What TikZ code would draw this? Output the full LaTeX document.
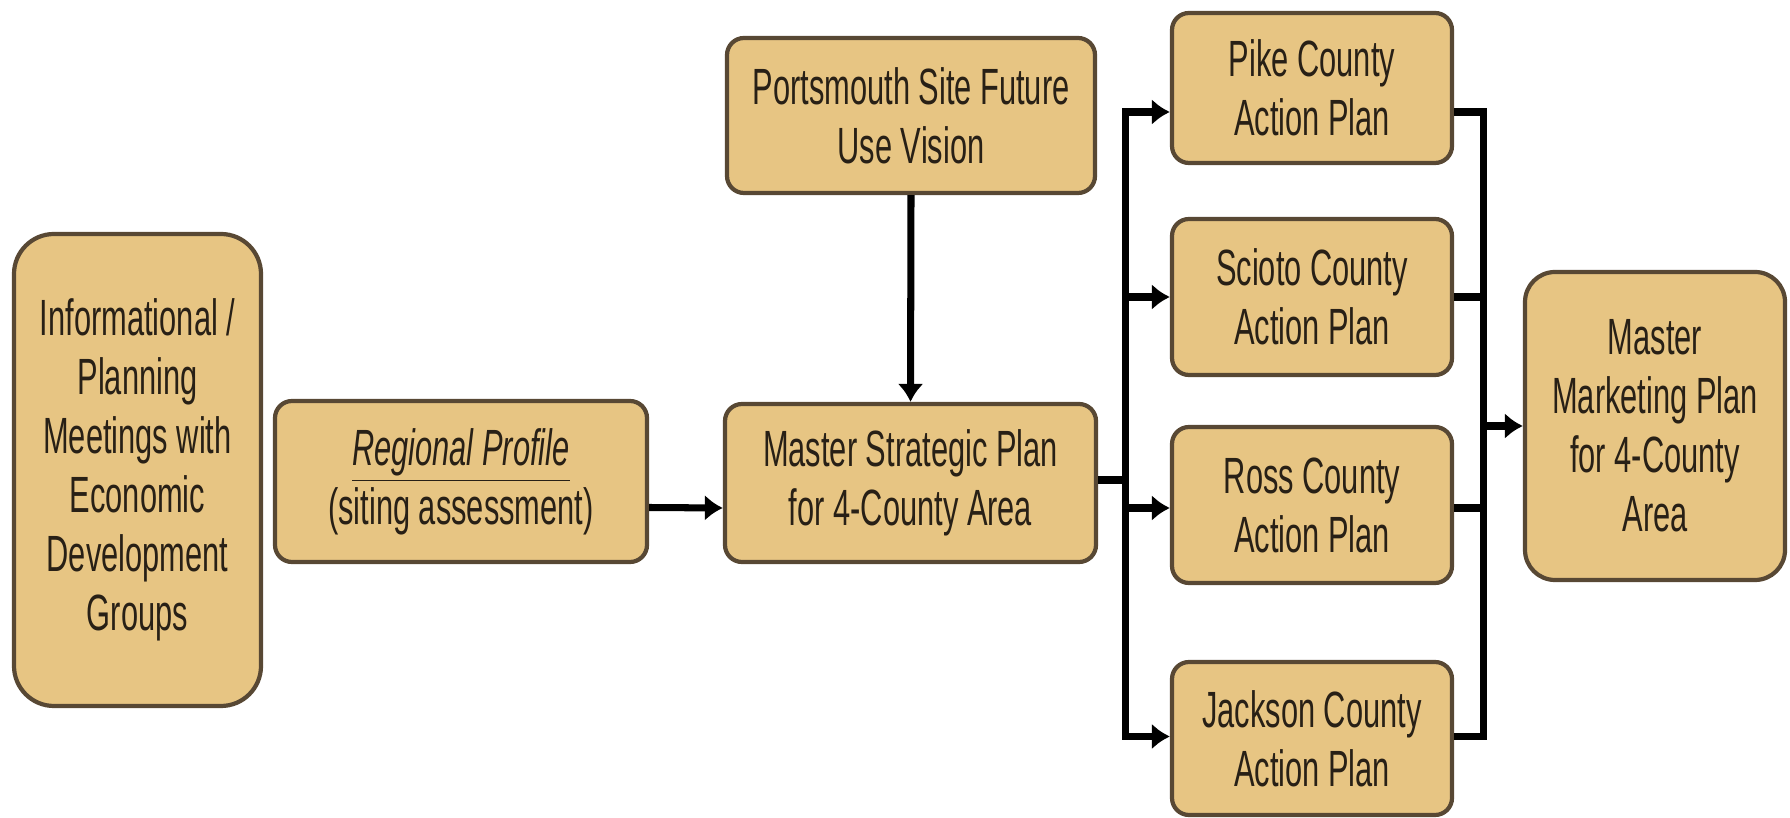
\documentclass[tikz,border=0pt]{standalone}
\usepackage{fontspec}
\setmainfont{Liberation Sans}[FakeStretch=0.605]
\usepackage{xcolor}
\usepackage{tikz}
\usetikzlibrary{calc}
\usetikzlibrary{arrows.meta}
\definecolor{planfill}{RGB}{231,197,131}
\definecolor{planedge}{RGB}{88,72,52}
\definecolor{plantext}{RGB}{40,32,22}

\begin{document}
\begin{tikzpicture}[
	plan/.style={draw=planedge,line width=1.2pt,fill=planfill,rounded corners=0.17cm,align=center,text=plantext,inner sep=0pt,font=\fontsize{14.5}{16.8}\selectfont},
	link/.style={line width=2pt,black},
	flow/.style={link,-{Latex[length=0.18cm,width=0.26cm]}}]
		\useasboundingbox (0,0) rectangle (17.9,8.17);
		\node[plan,rounded corners=0.4cm,minimum width=2.47cm,minimum height=4.72cm] (info) at (1.375,3.47) {Informational /\\Planning\\Meetings with\\Economic\\Development\\Groups};
		\node[plan,minimum width=3.72cm,minimum height=1.61cm] (region) at (4.61,3.355) {\underline{\textit{Regional Profile}}\\(siting assessment)};
		\node[plan,minimum width=3.71cm,minimum height=1.58cm] (strategic) at (9.105,3.34) {Master Strategic Plan\\for 4-County Area};
		\node[plan,minimum width=3.68cm,minimum height=1.55cm] (portsmouth) at (9.11,7.015) {Portsmouth Site Future\\Use Vision};
		\node[plan,minimum width=2.8cm,minimum height=1.5cm] (pike) at (13.12,7.29) {Pike County\\Action Plan};
		\node[plan,minimum width=2.8cm,minimum height=1.56cm] (scioto) at (13.12,5.2) {Scioto County\\Action Plan};
		\node[plan,minimum width=2.8cm,minimum height=1.56cm] (ross) at (13.12,3.12) {Ross County\\Action Plan};
		\node[plan,minimum width=2.8cm,minimum height=1.53cm] (jackson) at (13.12,0.785) {Jackson County\\Action Plan};
		\node[plan,rounded corners=0.3cm,minimum width=2.6cm,minimum height=3.08cm] (marketing) at (16.55,3.91) {Master\\Marketing Plan\\for 4-County\\Area};
		\coordinate (leftbus) at (11.25,3.37);
		\coordinate (rightbus) at (14.83,3.91);
		\draw[flow] ([yshift=-0.26cm]region.east) -- ([yshift=-0.25cm]strategic.west);
		\draw[flow] (portsmouth.south) -- (strategic.north);
		\draw[link] ([yshift=0.03cm]strategic.east) -- (leftbus);
		\draw[flow] (leftbus) |- ([yshift=-0.24cm]pike.west);
		\draw[flow] (leftbus) |- (scioto.west);
		\draw[flow] (leftbus) |- ([yshift=-0.03cm]ross.west);
		\draw[flow] (leftbus) |- ([yshift=0.02cm]jackson.west);
		\draw[link] ([yshift=-0.24cm]pike.east) -| (rightbus);
		\draw[link] (scioto.east) -| (rightbus);
		\draw[link] ([yshift=-0.03cm]ross.east) -| (rightbus);
		\draw[link] ([yshift=0.02cm]jackson.east) -| (rightbus);
		\draw[flow] (rightbus) -- (marketing.west);
	\end{tikzpicture}
\end{document}
